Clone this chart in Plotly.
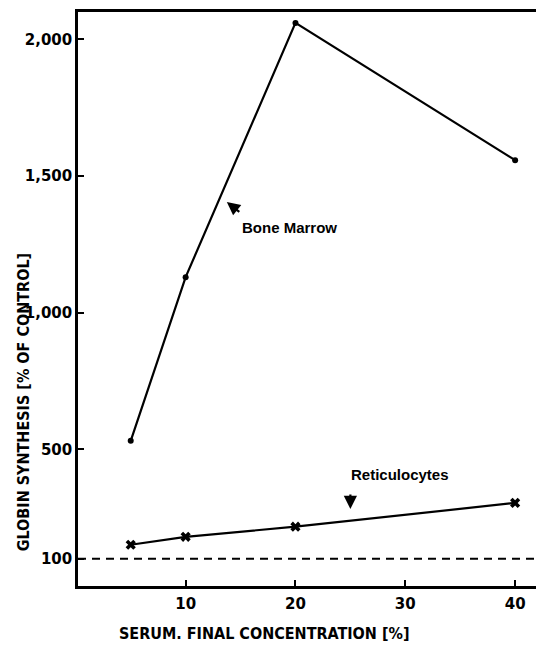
import plotly.graph_objects as go

# Data
serum_conc = [5, 10, 20, 40]
bone_marrow = [531, 1130, 2060, 1558]
reticulocytes = [151, 180, 217, 304]
control_level = 100
y_tick_vals = [100, 500, 1000, 1500, 2000]
y_tick_text = ["100", "500", "1,000", "1,500", "2,000"]
x_tick_vals = [10, 20, 30, 40]
x_tick_text = ["10", "20", "30", "40"]

TICKFONT = dict(family="DejaVu Sans", size=15, color="black", weight="bold")
TITLEFONT = dict(family="DejaVu Sans Condensed, Liberation Sans Narrow, sans-serif",
                 size=16, color="black", weight="bold")
LABELFONT = dict(family="Liberation Sans, Arial, sans-serif", size=15, color="black", weight="bold")

fig = go.Figure()
fig.add_trace(go.Scatter(
    x=serum_conc, y=bone_marrow, mode="lines+markers",
    line=dict(color="black", width=2.2),
    marker=dict(symbol="circle", size=6, color="black"),
    showlegend=False, hoverinfo="skip"))
fig.add_trace(go.Scatter(
    x=serum_conc, y=reticulocytes, mode="lines+markers",
    line=dict(color="black", width=2.2),
    marker=dict(symbol="x", size=9, color="black"),
    showlegend=False, hoverinfo="skip"))

# dashed control line
fig.add_shape(type="line", xref="paper", x0=0, x1=1, yref="y", y0=control_level, y1=control_level,
              line=dict(color="black", width=2, dash="8px,6px"))

# annotations
fig.add_annotation(x=13.75, y=1405, ax=14, ay=11, showarrow=True, arrowhead=2, arrowsize=1.2,
                   arrowwidth=2.2, arrowcolor="black", text="")
fig.add_annotation(x=19.42, y=1313, text="Bone Marrow", showarrow=False, font=LABELFONT)
fig.add_annotation(x=25.0, y=282, ax=0, ay=-16, showarrow=True, arrowhead=2, arrowsize=1.2,
                   arrowwidth=2.2, arrowcolor="black", text="")
fig.add_annotation(x=29.5, y=407, text="Reticulocytes", showarrow=False, font=LABELFONT)

# axis titles
fig.add_annotation(xref="paper", x=0, xanchor="center", xshift=-55,
                   yref="paper", y=0.32, yanchor="middle",
                   text="GLOBIN SYNTHESIS [% OF CONTROL]", textangle=-90, showarrow=False,
                   font=TITLEFONT)
fig.add_annotation(xref="paper", x=0.406, xanchor="center",
                   yref="paper", y=0, yanchor="middle", yshift=-47,
                   text="SERUM. FINAL CONCENTRATION [%]", showarrow=False,
                   font=TITLEFONT)

fig.update_layout(
    width=536, height=645,
    margin=dict(l=78, r=0, t=12, b=59),
    paper_bgcolor="white", plot_bgcolor="white",
    xaxis=dict(range=[0.2, 41.9], tickvals=x_tick_vals, ticktext=x_tick_text,
               ticks="inside", ticklen=6, tickwidth=2, tickcolor="black",
               showline=True, linecolor="black", linewidth=2.5, mirror=True,
               showgrid=False, zeroline=False, tickfont=TICKFONT, ticklabelstandoff=2),
    yaxis=dict(range=[0, 2100], tickvals=y_tick_vals, ticktext=y_tick_text,
               ticks="inside", ticklen=6, tickwidth=2, tickcolor="black",
               showline=True, linecolor="black", linewidth=2.5,
               showgrid=False, zeroline=False, tickfont=TICKFONT),
)

fig.write_html("out.html", config={"displayModeBar": False},
               post_script="document.body.style.margin='0';document.body.style.overflow='hidden';")
